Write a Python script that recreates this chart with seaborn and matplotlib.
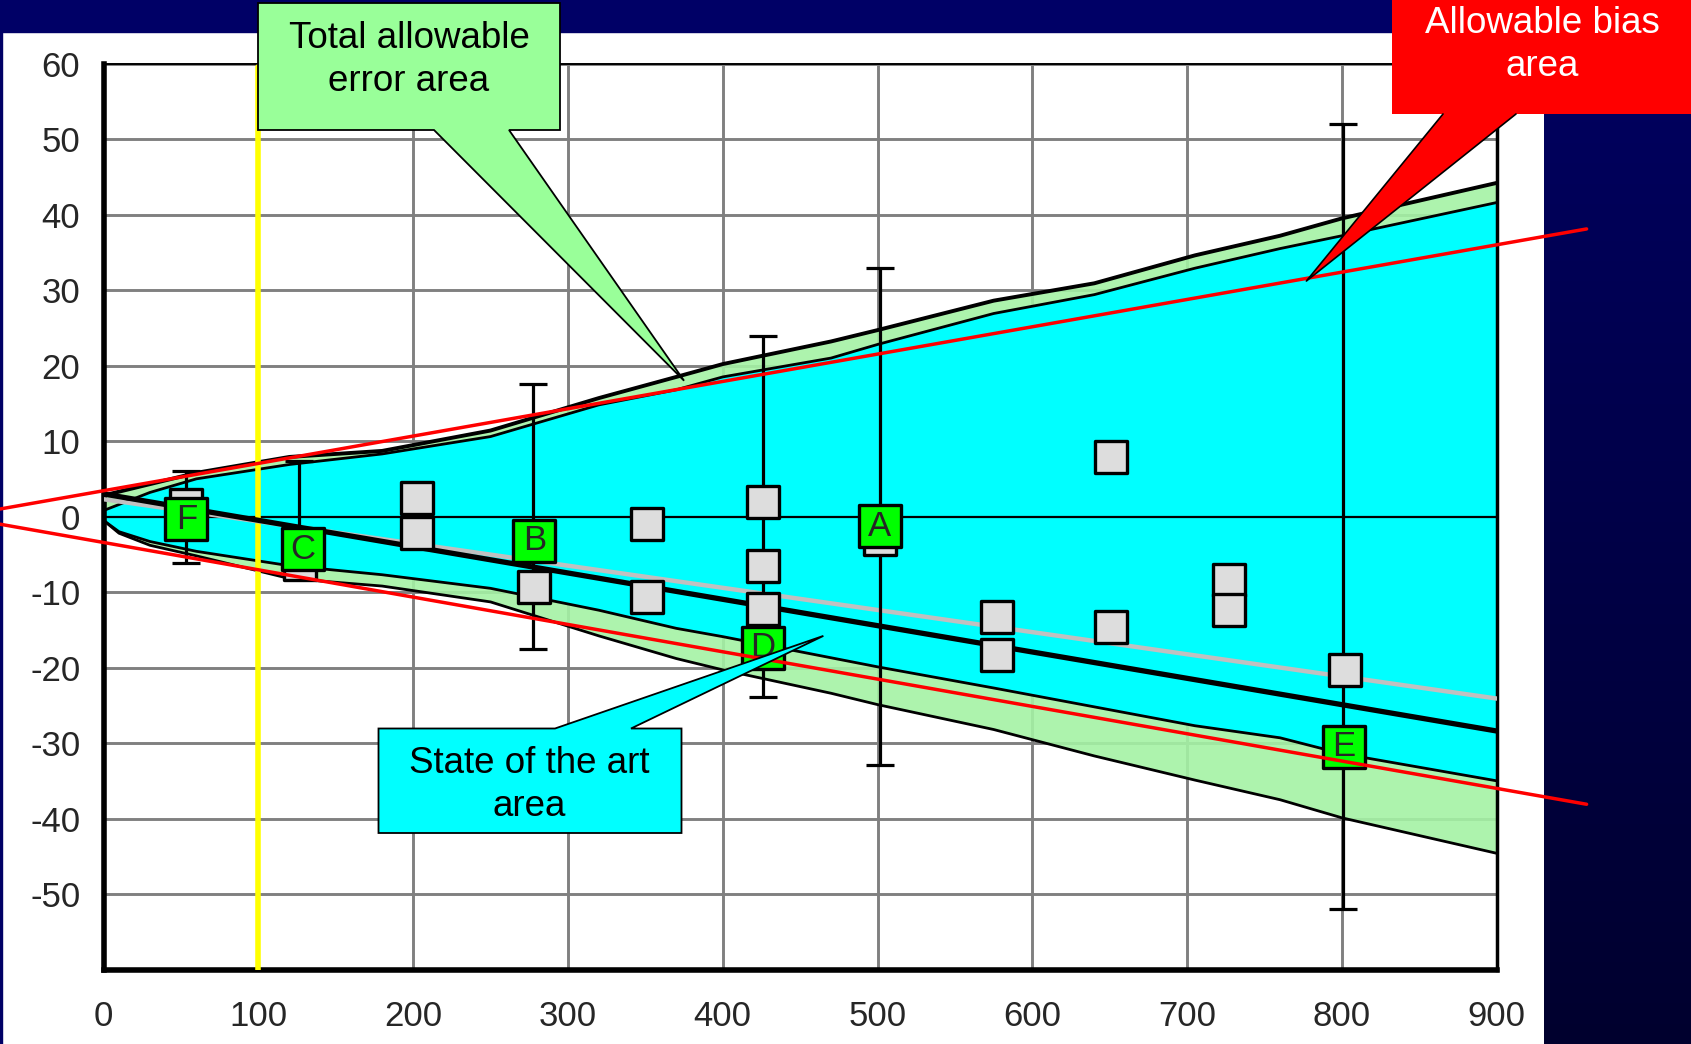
import matplotlib
matplotlib.use("Agg")
import numpy as np
import seaborn as sns
from matplotlib import pyplot as plt
from matplotlib.lines import Line2D
from matplotlib.patches import Polygon, Rectangle

# --- data ---
band_x = [0, 10, 30, 60, 120, 180, 250, 320, 370, 400, 470, 500, 575, 640, 705, 760, 800, 900]
tea_upper = [2.8, 3.3, 4.3, 5.8, 7.9, 8.7, 11.4, 15.7, 18.5, 20.2, 23.2, 24.7, 28.6, 30.9, 34.6, 37.2, 39.5, 44.2]
sota_upper = [0.8, 1.6, 3.2, 5.0, 6.9, 8.3, 10.6, 14.8, 16.8, 18.5, 21.0, 22.8, 26.9, 29.4, 32.9, 35.5, 37.2, 41.6]
sota_lower = [-0.5, -2.0, -3.3, -4.6, -6.5, -7.7, -9.5, -12.4, -14.8, -15.9, -18.7, -19.9, -22.7, -25.2, -27.7, -29.3, -31.4, -35.0]
tea_lower = [-0.5, -2.2, -3.8, -5.2, -8.2, -9.2, -11.3, -15.8, -18.8, -20.3, -23.4, -24.9, -28.2, -31.7, -34.9, -37.5, -39.9, -44.6]

fit_x = [0, 900]
fit_black = [3.0, -28.4]
fit_gray = [2.3, -24.1]

bias_x = [-67, 958]
bias_upper = [1.0, 38.1]
bias_lower = [-1.0, -38.1]

cutoff_x = 100

err_x = [53, 126.4, 277.5, 426, 501.4, 800.8]
err_half = [6.1, 7.4, 17.6, 23.9, 32.9, 52.0]

gray_x = [53, 127, 202.5, 202.5, 278, 351, 351, 426, 426, 426, 501.5, 577, 577, 651, 651, 727, 727, 802]
gray_y = [1.5, -6.3, 2.4, -2.2, -9.3, -1.0, -10.6, 1.9, -6.5, -12.3, -3.0, -13.3, -18.3, 7.85, -14.6, -8.4, -12.4, -20.3]

lab_names = ["F", "C", "B", "D", "A", "E"]
lab_x = [53.5, 128.7, 278.4, 426, 501.5, 801.2]
lab_y = [-0.35, -4.3, -3.2, -17.4, -1.3, -30.5]

x_ticks = list(range(0, 901, 100))
y_ticks = list(range(-50, 61, 10))

# --- figure ---
sns.set_style("white")
plt.rcParams['font.family'] = ['Liberation Sans', 'DejaVu Sans']
plt.rcParams['axes.unicode_minus'] = False

W, H = 1691, 1044
fig = plt.figure(figsize=(W / 100, H / 100), dpi=100)
fig.patch.set_facecolor("white")


def px(xp, yp):
    return (xp / W, 1 - yp / H)


# slide background bands
bg = fig.add_axes([1544 / W, 0, 1 - 1544 / W, 1], zorder=-2)
grad = np.linspace(0, 1, 256).reshape(-1, 1)
bg.imshow(grad, aspect="auto", cmap=matplotlib.colors.LinearSegmentedColormap.from_list(
    "navy", ["#000062", "#00002e"]), extent=[0, 1, 0, 1])
bg.set_axis_off()
fig.add_artist(Rectangle((0, 1 - 32 / H), 1, 32 / H, transform=fig.transFigure,
                         color="#000066", zorder=-1))
fig.add_artist(Rectangle((0, 0), 2 / W, 1, transform=fig.transFigure,
                         color="#000066", zorder=-1))

ax = fig.add_axes([103.5 / W, 1 - 969.6 / H, (1496.8 - 103.5) / W, (969.6 - 63.6) / H])
ax.set_xlim(0, 900)
ax.set_ylim(-60, 60)
ax.set_facecolor("white")

ax.set_xticks(x_ticks)
ax.set_yticks(y_ticks)
ax.set_xticks(np.arange(0, 901, 25), minor=True)
ax.set_yticks(np.arange(-60, 60.1, 2.5), minor=True)
ax.set_axisbelow(True)
ax.grid(True, which="major", color="#808080", lw=2.1)
ax.tick_params(axis="y", which="major", length=12.7, width=2.1, color="#808080",
               labelsize=25, pad=4)
ax.tick_params(axis="x", which="major", length=7, width=2.1, color="#808080",
               labelsize=25, pad=15)
ax.tick_params(which="minor", length=7.5, width=1.6, color="#333333")
for side, lw in [("left", 4), ("bottom", 4), ("top", 1.4), ("right", 2.5)]:
    ax.spines[side].set_visible(True)
    ax.spines[side].set_color("black")
    ax.spines[side].set_linewidth(lw)

# areas
ax.fill_between(band_x, tea_lower, tea_upper, color="#a4f2a4", alpha=0.9, lw=0, zorder=1)
ax.fill_between(band_x, sota_lower, sota_upper, color="#00ffff", lw=0, zorder=2)
ax.plot(band_x, tea_upper, color="black", lw=2.8, zorder=3)
ax.plot(band_x, sota_upper, color="black", lw=2.0, zorder=3)
ax.plot(band_x, sota_lower, color="black", lw=2.0, zorder=3)
ax.plot(band_x, tea_lower, color="black", lw=2.0, zorder=3)
ax.axhline(0, color="black", lw=1.6, zorder=3)
ax.plot([cutoff_x, cutoff_x], [-60, 59.5], color="#ffff00", lw=4, zorder=3.5)

# fits
sns.lineplot(x=fit_x, y=fit_gray, ax=ax, color="#c0c0c0", lw=3.2, zorder=4)
sns.lineplot(x=fit_x, y=fit_black, ax=ax, color="black", lw=3.8, zorder=4.1)

# error bars and points
ax.errorbar(err_x, np.zeros(len(err_x)), yerr=err_half, fmt="none", ecolor="black",
            elinewidth=2.3, capsize=10, capthick=2.3, zorder=5)
sns.scatterplot(x=gray_x, y=gray_y, ax=ax, marker="s", s=22.5 ** 2, color="#dddddd",
                edgecolor="black", linewidth=2.4, zorder=6)
sns.scatterplot(x=lab_x, y=lab_y, ax=ax, marker="s", s=30.5 ** 2, color="#00ff00",
                edgecolor="black", linewidth=2.4, zorder=7)
for name, x, y in zip(lab_names, lab_x, lab_y):
    ax.text(x, y, name, ha="center", va="center", fontsize=25, zorder=8)

# bias limits
ax.plot(bias_x, bias_upper, color="#ff0000", lw=2.5, clip_on=False, zorder=9)
ax.plot(bias_x, bias_lower, color="#ff0000", lw=2.5, clip_on=False, zorder=9)
ax.set_xlabel("")
ax.set_ylabel("")


def tip(xd, yd):
    disp = ax.transData.transform((xd, yd))
    return tuple(fig.transFigure.inverted().transform(disp))


# callouts
tea_tip = tip(375, 18.0)
fig.add_artist(Polygon([px(258, 3), px(560, 3), px(560, 130), px(509, 130), tea_tip,
                        px(434, 130), px(258, 130)], closed=True, transform=fig.transFigure,
                       facecolor="#99ff99", edgecolor="black", lw=1.3, zorder=10))
fig.text(*px(409, 60), "Total allowable\nerror area", ha="center", va="center",
         fontsize=26.5, color="black", zorder=11, linespacing=1.3)

bias_tip = tip(777, 31.2)
fig.add_artist(Polygon([px(1392, -10), px(1705, -10), px(1705, 114), px(1516, 114), bias_tip,
                        px(1443, 114), px(1392, 114)], closed=True, transform=fig.transFigure,
                       facecolor="#ff0000", edgecolor="none", zorder=10))
fig.add_artist(Line2D([px(1443, 114)[0], bias_tip[0], px(1516, 114)[0]],
                      [px(1443, 114)[1], bias_tip[1], px(1516, 114)[1]],
                      transform=fig.transFigure, color="black", lw=1.2, zorder=10.5))
fig.text(*px(1542, 45), "Allowable bias\narea", ha="center", va="center",
         fontsize=26.5, color="white", zorder=11, linespacing=1.3)

sota_tip = tip(465, -15.8)
fig.add_artist(Polygon([px(378.5, 728.5), px(555, 728.5), sota_tip, px(631, 728.5),
                        px(681.5, 728.5), px(681.5, 833), px(378.5, 833)], closed=True,
                       transform=fig.transFigure, facecolor="#00ffff", edgecolor="black",
                       lw=1.3, zorder=10))
fig.text(*px(529.5, 785), "State of the art\narea", ha="center", va="center",
         fontsize=26.5, color="black", zorder=11, linespacing=1.3)

fig.savefig("out.png", dpi=100)
